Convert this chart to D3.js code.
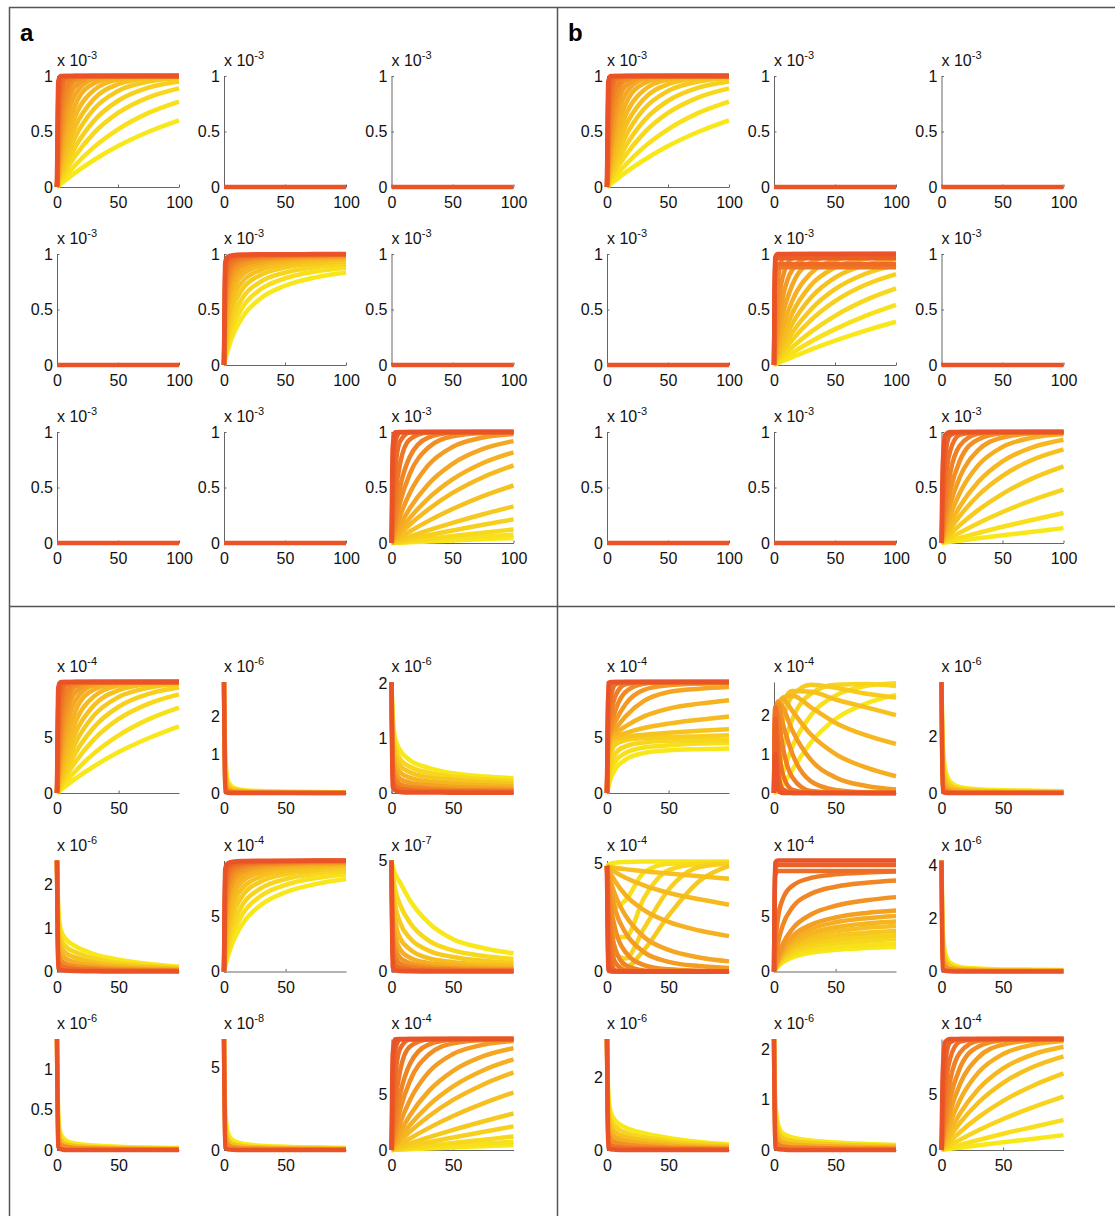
<!DOCTYPE html>
<html>
<head>
<meta charset="utf-8">
<script src="https://cdn.jsdelivr.net/npm/d3@7"></script>
<style>
body { margin: 0; background: #fff; }
svg text { font-family: "Liberation Sans", Arial, Helvetica, sans-serif; }
</style>
</head>
<body>
<div id="chart"></div>
<script>
// sample times of every curve (top row of panels runs to 100, bottom row to 99)
const XT = [0, 1, 3, 7, 15, 30, 50, 75, 100];
const XB = [0, 1, 3, 7, 15, 30, 50, 75, 99];

// curves are listed slow -> fast (yellow -> red)
const ZERO = [[0, 0, 0, 0, 0, 0, 0, 0, 0]];

const S1 = [ // x 10^-3
  [0, .0092, .027, .062, .129, .241, .369, .498, .601],
  [0, .0146, .043, .098, .198, .357, .520, .668, .770],
  [0, .022, .064, .143, .281, .483, .667, .808, .889],
  [0, .030, .086, .189, .362, .593, .777, .895, .950],
  [0, .039, .113, .244, .451, .699, .865, .950, .982],
  [0, .051, .145, .305, .542, .790, .926, .980, .994],
  [0, .066, .185, .379, .639, .870, .967, .994, .999],
  [0, .086, .237, .467, .741, .933, .989, .999, 1],
  [0, .113, .302, .568, .835, .973, .998, 1, 1],
  [0, .148, .381, .674, .909, .992, 1, 1, 1],
  [0, .197, .483, .786, .963, .999, 1, 1, 1],
  [0, .274, .617, .894, .992, 1, 1, 1, 1],
  [0, .393, .777, .970, .999, 1, 1, 1, 1],
  [0, .551, .909, .996, 1, 1, 1, 1, 1],
  [0, .777, .989, 1, 1, 1, 1, 1, 1],
  [0, .95, 1, 1, 1, 1, 1, 1, 1]
];

const S2 = [ // x 10^-3
  [0, .048, .130, .259, .429, .600, .714, .789, .833],
  [0, .067, .176, .333, .517, .682, .781, .843, .877],
  [0, .091, .231, .412, .600, .750, .833, .882, .909],
  [0, .125, .300, .500, .682, .811, .877, .915, .935],
  [0, .167, .375, .583, .750, .857, .909, .938, .952],
  [0, .222, .462, .667, .811, .896, .935, .955, .966],
  [0, .286, .545, .737, .857, .923, .952, .968, .976],
  [0, .370, .638, .805, .898, .946, .967, .978, .983],
  [0, .476, .732, .864, .932, .965, .978, .986, .989],
  [0, .588, .811, .909, .955, .977, .986, .991, .993],
  [0, .714, .882, .946, .974, .987, .992, .995, .996],
  [0, .833, .938, .972, .987, .993, .996, .997, .998],
  [0, .926, .974, .989, .995, .997, .998, .999, .999]
];

const S3 = [ // x 10^-3
  [0, .0005, .0014, .0032, .0069, .0137, .0227, .0339, .045],
  [0, .0008, .0023, .0055, .0116, .023, .038, .057, .075],
  [0, .0013, .0039, .0091, .0193, .038, .063, .093, .122],
  [0, .0024, .0072, .0167, .035, .070, .113, .165, .213],
  [0, .004, .012, .028, .058, .113, .181, .259, .330],
  [0, .0073, .0217, .050, .104, .197, .306, .422, .518],
  [0, .012, .035, .080, .165, .302, .451, .593, .699],
  [0, .017, .050, .112, .225, .400, .573, .721, .817],
  [0, .025, .072, .161, .313, .528, .713, .847, .918],
  [0, .039, .113, .244, .451, .699, .865, .950, .982],
  [0, .063, .177, .365, .623, .858, .961, .992, .998],
  [0, .095, .259, .503, .777, .950, .993, .999, 1],
  [0, .165, .417, .716, .933, .995, 1, 1, 1],
  [0, .295, .650, .914, .995, 1, 1, 1, 1],
  [0, .551, .909, .996, 1, 1, 1, 1, 1],
  [0, .865, .998, 1, 1, 1, 1, 1, 1]
];

const TB2 = [ // x 10^-3
  [0, .0049, .0147, .034, .071, .138, .219, .310, .390],
  [0, .0078, .023, .053, .110, .209, .323, .443, .542],
  [0, .0116, .0345, .079, .161, .296, .443, .584, .690],
  [0, .017, .050, .113, .226, .401, .575, .723, .819],
  [0, .023, .067, .149, .292, .498, .683, .822, .900],
  [0, .031, .089, .195, .372, .605, .788, .902, .955],
  [0, .041, .118, .255, .467, .716, .878, .957, .985],
  [0, .056, .160, .334, .581, .824, .945, .987, .997],
  [0, .081, .225, .448, .721, .922, .986, .998, 1],
  [0, .122, .323, .597, .858, .980, .998, 1, 1],
  [0, .197, .483, .786, .963, .999, 1, 1, 1],
  [0, .362, .741, .957, .999, 1, 1, 1, 1],
  [0, .84, .88, .88, .88, .88, .88, .88, .88],
  [0, .87, .91, .91, .91, .91, .91, .91, .91],
  [0, .93, .962, .962, .962, .962, .962, .962, .962],
  [0, .97, 1, 1, 1, 1, 1, 1, 1]
];

const TB3 = [ // x 10^-3
  [0, .0014, .0043, .010, .021, .042, .070, .102, .134],
  [0, .0031, .0094, .0218, .046, .090, .146, .210, .270],
  [0, .0065, .0194, .045, .093, .178, .279, .388, .480],
  [0, .0116, .0345, .079, .161, .296, .443, .584, .690],
  [0, .0184, .054, .122, .244, .428, .605, .752, .844],
  [0, .026, .077, .170, .329, .550, .736, .864, .930],
  [0, .039, .113, .244, .451, .699, .865, .950, .982],
  [0, .058, .165, .343, .593, .835, .950, .989, .998],
  [0, .086, .237, .467, .741, .933, .989, .999, 1],
  [0, .131, .343, .625, .878, .985, .999, 1, 1],
  [0, .221, .528, .826, .976, .999, 1, 1, 1],
  [0, .393, .777, .970, .999, 1, 1, 1, 1],
  [0, .699, .973, 1, 1, 1, 1, 1, 1]
];

const BA12 = [ // x 10^-6
  [2.9, 1.1, .33, .15, .08, .05, .035, .026, .02],
  [2.9, .75, .22, .1, .055, .033, .024, .018, .014],
  [2.9, .45, .12, .055, .03, .018, .013, .01, .008],
  [2.9, .2, .05, .02, .01, .006, .004, .003, .002],
  [2.9, .04, .005, 0, 0, 0, 0, 0, 0]
];

const BA13 = [ // x 10^-6
  [2.03, 1.4, 1.0, .78, .6, .46, .36, .3, .27],
  [2.03, 1.2, .85, .62, .48, .37, .3, .25, .22],
  [2.03, 1.05, .7, .5, .38, .29, .24, .2, .17],
  [2.03, .9, .55, .38, .28, .21, .17, .14, .12],
  [2.03, .7, .4, .26, .19, .14, .11, .09, .08],
  [2.03, .5, .26, .16, .11, .08, .06, .05, .045],
  [2.03, .3, .14, .08, .05, .035, .03, .025, .02],
  [2.03, .12, .05, .02, .01, .01, .005, .005, .005]
];

const BA21 = [ // x 10^-6
  [2.55, 1.5, .97, .75, .58, .4, .27, .17, .11],
  [2.55, 1.2, .78, .58, .44, .3, .2, .13, .085],
  [2.55, .95, .6, .43, .32, .21, .14, .09, .06],
  [2.55, .7, .43, .3, .21, .14, .09, .06, .04],
  [2.55, .45, .27, .18, .12, .08, .05, .035, .025],
  [2.55, .25, .14, .09, .06, .04, .025, .018, .012],
  [2.55, .08, .04, .02, .01, .005, 0, 0, 0]
];

const BA23 = [ // x 10^-7
  [5, 4.75, 4.4, 4.0, 3.2, 2.2, 1.45, 1.05, .82],
  [5, 4.4, 3.7, 3.0, 2.2, 1.4, .95, .7, .56],
  [5, 4.0, 3.0, 2.2, 1.5, .95, .65, .48, .38],
  [5, 3.5, 2.3, 1.5, 1.0, .6, .42, .31, .25],
  [5, 2.9, 1.6, 1.0, .62, .38, .26, .19, .15],
  [5, 2.2, 1.1, .62, .38, .22, .15, .11, .09],
  [5, 1.5, .65, .35, .2, .12, .08, .06, .05],
  [5, .8, .3, .15, .08, .05, .03, .02, .02],
  [5, .2, .05, .02, .01, 0, 0, 0, 0]
];

const BA31 = [ // x 10^-6
  [1.38, .45, .2, .12, .08, .055, .04, .03, .025],
  [1.38, .3, .13, .075, .05, .035, .025, .02, .016],
  [1.38, .16, .07, .04, .025, .018, .013, .01, .008],
  [1.38, .04, .01, 0, 0, 0, 0, 0, 0]
];

const BA32 = [ // x 10^-8
  [6.7, 2.4, 1.1, .6, .38, .26, .2, .16, .13],
  [6.7, 1.5, .65, .36, .23, .16, .12, .1, .08],
  [6.7, .8, .32, .17, .11, .08, .06, .05, .04],
  [6.7, .15, .04, .01, 0, 0, 0, 0, 0]
];

const BB11 = [ // x 10^-4
  [0, .5, 1.3, 2.2, 3.0, 3.6, 3.85, 3.95, 4.0],
  [0, .8, 1.9, 2.9, 3.6, 4.1, 4.3, 4.45, 4.5],
  [0, 1.2, 2.6, 3.6, 4.2, 4.55, 4.7, 4.78, 4.8],
  [0, 1.8, 3.5, 4.4, 4.75, 4.95, 5.05, 5.12, 5.2],
  [0, 2.6, 4.3, 4.85, 5.05, 5.25, 5.42, 5.6, 5.75],
  [0, 3.3, 4.8, 5.1, 5.4, 5.85, 6.25, 6.6, 6.9],
  [0, 3.8, 5.0, 5.4, 6.0, 6.9, 7.6, 8.05, 8.36],
  [0, 4.2, 5.2, 5.8, 6.9, 8.3, 9.1, 9.4, 9.55],
  [0, 4.6, 5.5, 6.5, 8.0, 9.3, 9.7, 9.85, 9.9],
  [0, 5.0, 6.0, 7.5, 9.1, 9.85, 9.97, 10, 10],
  [0, 5.5, 7.0, 8.8, 9.8, 10, 10, 10, 10],
  [0, 6.5, 8.5, 9.8, 10, 10, 10, 10, 10],
  [0, 8.5, 9.9, 10, 10, 10, 10, 10, 10],
  [0, 9.9, 10, 10, 10, 10, 10, 10, 10]
];

const BB12 = [ // x 10^-4
  [0, .01, .05, .2, .6, 1.3, 1.9, 2.3, 2.52],
  [0, .03, .15, .5, 1.2, 2.0, 2.5, 2.75, 2.82],
  [0, .08, .4, 1.1, 1.9, 2.55, 2.78, 2.8, 2.75],
  [0, .2, .9, 1.8, 2.5, 2.78, 2.7, 2.55, 2.45],
  [0, .5, 1.5, 2.3, 2.62, 2.6, 2.4, 2.2, 2.0],
  [0, .9, 2.0, 2.45, 2.5, 2.2, 1.8, 1.48, 1.26],
  [0, 1.4, 2.25, 2.42, 2.1, 1.5, 1.0, .65, .43],
  [0, 1.8, 2.35, 2.2, 1.6, .85, .4, .18, .09],
  [0, 2.05, 2.3, 1.8, 1.0, .3, .08, .02, .01],
  [0, 2.2, 2.0, 1.2, .4, .05, .01, 0, 0],
  [0, 2.2, 1.4, .5, .08, 0, 0, 0, 0],
  [0, 1.9, .6, .1, 0, 0, 0, 0, 0],
  [0, 1.0, .1, 0, 0, 0, 0, 0, 0]
];

const BB13 = [ // x 10^-6
  [3.9, 1.8, .85, .4, .2, .13, .1, .08, .06],
  [3.9, 1.2, .55, .26, .13, .08, .06, .05, .04],
  [3.9, .7, .3, .14, .07, .04, .03, .025, .02],
  [3.9, .3, .1, .04, .02, .01, .01, .01, .01],
  [3.9, .05, .01, 0, 0, 0, 0, 0, 0]
];

const BB21 = [ // x 10^-4
  [4.9, 4.95, 5.0, 5.05, 5.08, 5.1, 5.1, 5.1, 5.1],
  [4.9, 4.7, 4.0, 3.0, 3.3, 4.6, 5.0, 5.05, 5.05],
  [4.9, 4.4, 3.0, 1.6, 1.6, 3.4, 4.7, 5.0, 5.05],
  [4.9, 4.0, 2.2, .8, .6, 2.0, 3.8, 4.85, 5.0],
  [4.9, 3.5, 1.4, .3, .2, 1.0, 2.6, 4.2, 4.9],
  [4.9, 4.88, 4.85, 4.8, 4.75, 4.65, 4.55, 4.42, 4.3],
  [4.9, 4.85, 4.75, 4.6, 4.35, 4.0, 3.65, 3.35, 3.1],
  [4.9, 4.8, 4.55, 4.15, 3.55, 2.85, 2.3, 1.9, 1.64],
  [4.9, 4.7, 4.2, 3.5, 2.6, 1.6, 1.0, .65, .47],
  [4.9, 4.5, 3.8, 2.8, 1.8, .9, .45, .25, .16],
  [4.9, 4.2, 3.1, 1.9, .9, .3, .1, .04, .02],
  [4.9, 3.7, 2.2, 1.0, .3, .05, 0, 0, 0],
  [4.9, 3.0, 1.3, .4, .05, 0, 0, 0, 0],
  [4.9, 2.0, .5, .05, 0, 0, 0, 0, 0],
  [4.9, .8, .05, 0, 0, 0, 0, 0, 0],
  [4.9, .1, 0, 0, 0, 0, 0, 0, 0]
];

const BB22 = [ // x 10^-4
  [0, .16, .42, .81, 1.27, 1.69, 1.95, 2.11, 2.2],
  [0, .18, .48, .92, 1.44, 1.92, 2.22, 2.4, 2.5],
  [0, .21, .56, 1.06, 1.67, 2.23, 2.57, 2.78, 2.9],
  [0, .23, .63, 1.19, 1.88, 2.5, 2.89, 3.13, 3.26],
  [0, .26, .7, 1.34, 2.1, 2.8, 3.23, 3.5, 3.65],
  [0, .3, .79, 1.5, 2.36, 3.15, 3.63, 3.94, 4.1],
  [0, .32, .86, 1.65, 2.59, 3.46, 3.99, 4.32, 4.5],
  [0, .36, .96, 1.83, 2.88, 3.84, 4.43, 4.8, 5.0],
  [0, .4, 1.06, 2.01, 3.17, 4.22, 4.87, 5.28, 5.5],
  [0, .48, 1.28, 2.45, 3.85, 5.13, 5.92, 6.42, 6.7],
  [0, .98, 2.42, 4.13, 5.78, 7.0, 7.64, 8.0, 8.2],
  [0, 2.32, 4.64, 6.49, 7.73, 8.43, 8.75, 8.92, 9.0],
  [0, 8.6, 9.05, 9.05, 9.05, 9.05, 9.05, 9.05, 9.05],
  [0, 9.2, 9.6, 9.6, 9.6, 9.6, 9.6, 9.6, 9.6],
  [0, 9.8, 10, 10, 10, 10, 10, 10, 10]
];

const BB23 = [ // x 10^-6
  [4.2, 1.6, .7, .33, .17, .11, .08, .07, .06],
  [4.2, 1.0, .45, .2, .1, .07, .05, .04, .035],
  [4.2, .5, .2, .09, .05, .03, .02, .02, .015],
  [4.2, .1, .03, .01, 0, 0, 0, 0, 0]
];

const BB31 = [ // x 10^-6
  [3.05, 1.6, 1.05, .8, .62, .46, .33, .22, .15],
  [3.05, 1.3, .85, .64, .48, .35, .25, .17, .12],
  [3.05, 1.0, .65, .48, .36, .26, .18, .12, .09],
  [3.05, .75, .47, .34, .25, .18, .12, .08, .06],
  [3.05, .5, .3, .21, .15, .1, .07, .05, .035],
  [3.05, .25, .14, .09, .06, .04, .03, .02, .015],
  [3.05, .06, .02, .01, 0, 0, 0, 0, 0]
];

const BB32 = [ // x 10^-6
  [2.2, 1.0, .55, .33, .25, .19, .15, .12, .1],
  [2.2, .75, .4, .24, .18, .14, .11, .09, .075],
  [2.2, .5, .26, .15, .11, .085, .07, .055, .045],
  [2.2, .25, .12, .07, .05, .04, .03, .025, .02],
  [2.2, .05, .02, .01, 0, 0, 0, 0, 0]
];

// power of ten each data set is written in
const DATA_EXP = new Map([
  [ZERO, -3], [S1, -3], [S2, -3], [S3, -3], [TB2, -3], [TB3, -3],
  [BA12, -6], [BA13, -6], [BA21, -6], [BA23, -7], [BA31, -6], [BA32, -8],
  [BB11, -4], [BB12, -4], [BB13, -6], [BB21, -4], [BB22, -4], [BB23, -6],
  [BB31, -6], [BB32, -6]
]);

// 3x3 grids of the four panels
const TOP_A = [[S1, ZERO, ZERO], [ZERO, S2, ZERO], [ZERO, ZERO, S3]];
const TOP_B = [[S1, ZERO, ZERO], [ZERO, TB2, ZERO], [ZERO, ZERO, TB3]];
const BOT_A = [[S1, BA12, BA13], [BA21, S2, BA23], [BA31, BA32, S3]];
const BOT_B = [[BB11, BB12, BB13], [BB21, BB22, BB23], [BB31, BB32, TB3]];

const TOP_EXP = [[-3, -3, -3], [-3, -3, -3], [-3, -3, -3]];
const TOP_YMAX = [[1, 1, 1], [1, 1, 1], [1, 1, 1]];
const TOP_YTICKS = [0, 0.5, 1];
const BOT_A_EXP = [[-4, -6, -6], [-6, -4, -7], [-6, -8, -4]];
const BOT_A_YMAX = [[10, 2.9, 2.03], [2.55, 10, 5], [1.38, 6.7, 10]];
const BOT_A_YTICKS = [[[0, 5], [0, 1, 2], [0, 1, 2]], [[0, 1, 2], [0, 5], [0, 5]], [[0, 0.5, 1], [0, 5], [0, 5]]];
const BOT_B_EXP = [[-4, -4, -6], [-4, -4, -6], [-6, -6, -4]];
const BOT_B_YMAX = [[10, 2.85, 3.9], [5.15, 10, 4.2], [3.05, 2.2, 10]];
const BOT_B_YTICKS = [[[0, 5], [0, 1, 2], [0, 2]], [[0, 5], [0, 5], [0, 2, 4]], [[0, 2], [0, 1, 2], [0, 5]]];
const TOP_XTICKS = [0, 50, 100];
const BOT_XTICKS = [0, 50];

// layout
const W = 122, H = 111;
const COLS = [57, 224, 391.5];
const HALF_DX = 550;
const ROWS_TOP = [187, 365, 543];
const ROWS_BOT = [793, 971.5, 1150];

const color = d3.scaleLinear()
  .domain([0, 0.5, 1])
  .range(['#f8e81a', '#f5ad22', '#ea5327'])
  .interpolate(d3.interpolateRgb);

const svg = d3.select('#chart').append('svg')
  .attr('width', 1115)
  .attr('height', 1216);

// frame
svg.append('path')
  .attr('d', 'M9.5,1216V7.5H1115M557.5,7.5V1216M9.5,606.5H1115')
  .attr('fill', 'none')
  .attr('stroke', '#555')
  .attr('stroke-width', 1.5);

svg.append('text').attr('x', 20).attr('y', 41).text('a')
  .style('font-size', '24px').style('font-weight', 'bold');
svg.append('text').attr('x', 568).attr('y', 41).text('b')
  .style('font-size', '24px').style('font-weight', 'bold');

function subplot(x0, y0, curves, axisExp, ymax, yticks, xs, xmax, xticks) {
  const g = svg.append('g').attr('transform', `translate(${x0},${y0 - H})`);
  const x = d3.scaleLinear().domain([0, xmax]).range([0, W]);
  const y = d3.scaleLinear().domain([0, ymax]).range([H, 0]);
  const k = Math.pow(10, DATA_EXP.get(curves) - axisExp);

  const ya = g.append('g')
    .call(d3.axisLeft(y).tickValues(yticks).tickFormat(d3.format('~g'))
      .tickSizeInner(-2.5).tickSizeOuter(0).tickPadding(4));
  const xa = g.append('g')
    .attr('transform', `translate(0,${H})`)
    .call(d3.axisBottom(x).tickValues(xticks).tickFormat(d3.format('~g'))
      .tickSizeInner(-2.5).tickSizeOuter(0).tickPadding(10));
  [ya, xa].forEach(a => {
    a.select('.domain').attr('stroke', '#666');
    a.selectAll('.tick line').attr('stroke', '#666');
    a.selectAll('text').attr('fill', '#111').style('font-size', '16px');
  });

  // exponent label above the y axis
  const t = g.append('text').attr('x', 0).attr('y', -10)
    .attr('fill', '#111').style('font-size', '16px');
  t.append('tspan').text('x 10');
  t.append('tspan').attr('dy', -7).style('font-size', '11px').text('-' + Math.abs(axisExp));

  const line = d3.line()
    .x((d, i) => x(xs[i]))
    .y(d => y(d * k))
    .curve(d3.curveMonotoneX);

  const n = curves.length;
  g.selectAll('path.curve')
    .data(curves)
    .enter().append('path')
    .attr('class', 'curve')
    .attr('d', line)
    .attr('fill', 'none')
    .attr('stroke', (d, i) => color(n === 1 ? 1 : i / (n - 1)))
    .attr('stroke-width', 4.5)
    .attr('stroke-linejoin', 'round');
}

for (let r = 0; r < 3; r++) {
  for (let c = 0; c < 3; c++) {
    subplot(COLS[c], ROWS_TOP[r], TOP_A[r][c], TOP_EXP[r][c], TOP_YMAX[r][c], TOP_YTICKS, XT, 100, TOP_XTICKS);
    subplot(COLS[c] + HALF_DX, ROWS_TOP[r], TOP_B[r][c], TOP_EXP[r][c], TOP_YMAX[r][c], TOP_YTICKS, XT, 100, TOP_XTICKS);
    subplot(COLS[c], ROWS_BOT[r], BOT_A[r][c], BOT_A_EXP[r][c], BOT_A_YMAX[r][c], BOT_A_YTICKS[r][c], XB, 99, BOT_XTICKS);
    subplot(COLS[c] + HALF_DX, ROWS_BOT[r], BOT_B[r][c], BOT_B_EXP[r][c], BOT_B_YMAX[r][c], BOT_B_YTICKS[r][c], XB, 99, BOT_XTICKS);
  }
}
</script>
</body>
</html>
